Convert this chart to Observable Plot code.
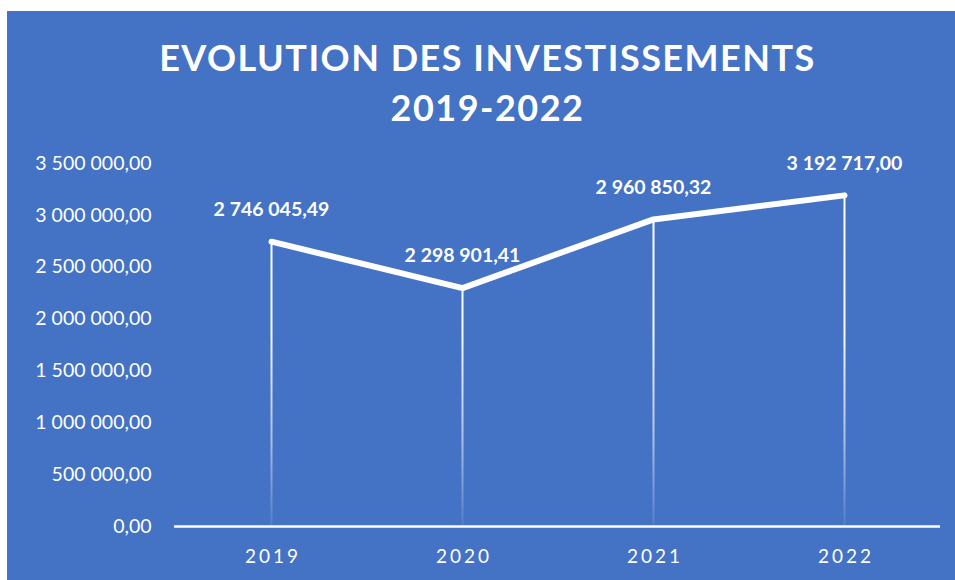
<!DOCTYPE html>
<html><head><meta charset="utf-8">
<script src="https://cdn.jsdelivr.net/npm/d3@7"></script>
<script src="https://cdn.jsdelivr.net/npm/@observablehq/plot@0.6"></script>
<style>
body{margin:0;width:955px;height:580px;position:relative;overflow:hidden;background:#fff;font-family:Lato,sans-serif}
#bg{position:absolute;left:7px;top:11px;width:948px;height:569px;background:#4472C4}
#title{position:absolute;left:0;top:32px;width:975px;text-align:center;color:#fff;font-weight:700;font-size:36px;line-height:50px;letter-spacing:1.5px}
#chart{position:absolute;left:0;top:140px}
#chart [aria-label="x-axis tick label"] text{letter-spacing:3px}
</style></head><body>
<div id="bg"></div>
<div id="title"></div>
<div id="chart"></div>
<script>
const titleLines = ["EVOLUTION DES INVESTISSEMENTS", "2019-2022"];
const years = ["2019", "2020", "2021", "2022"];
const values = [2746045.49, 2298901.41, 2960850.32, 3192717.00];
const yTicks = [0, 500000, 1000000, 1500000, 2000000, 2500000, 3000000, 3500000];

document.getElementById("title").innerHTML = titleLines.join("<br>");

const data = years.map((y, i) => ({year: y, value: values[i]}));
const fr = d3.formatLocale({decimal: ",", thousands: " ", grouping: [3], currency: ["", " €"]});
const fmt = fr.format(",.2f");

const defs = () => {
  const ns = "http://www.w3.org/2000/svg";
  const g = document.createElementNS(ns, "defs");
  const lg = document.createElementNS(ns, "linearGradient");
  lg.setAttribute("id", "fade");
  lg.setAttribute("gradientUnits", "userSpaceOnUse");
  lg.setAttribute("x1", 0); lg.setAttribute("x2", 0);
  lg.setAttribute("y1", 40); lg.setAttribute("y2", 386);
  [[0, 1], [0.45, 0.95], [0.75, 0.55], [1, 0.08]].forEach(([o, a]) => {
    const s = document.createElementNS(ns, "stop");
    s.setAttribute("offset", o);
    s.setAttribute("stop-color", "#ffffff");
    s.setAttribute("stop-opacity", a);
    lg.appendChild(s);
  });
  g.appendChild(lg);
  return g;
};

const plot = Plot.plot({
  width: 955,
  height: 440,
  marginTop: 23,
  marginBottom: 54,
  marginLeft: 174,
  marginRight: 15,
  style: {background: "transparent", color: "white", fontFamily: "Lato, sans-serif"},
  x: {type: "point", domain: years, padding: 0.5},
  y: {domain: [0, 3500000]},
  marks: [
    defs,
    Plot.axisY(yTicks, {tickSize: 0, tickPadding: 23, fontSize: 19.5, tickFormat: fmt, fill: "white", label: null}),
    Plot.axisX({tickSize: 0, tickPadding: 23, fontSize: 19, fill: "white", dx: 1.5, label: null}),
    Plot.ruleX(data, {x: "year", y1: 0, y2: "value", stroke: "url(#fade)", strokeWidth: 2}),
    Plot.ruleY([0], {stroke: "white", strokeWidth: 2.5}),
    Plot.line(data, {x: "year", y: "value", stroke: "white", strokeWidth: 6, strokeLinecap: "round", strokeLinejoin: "round"}),
    Plot.text(data, {x: "year", y: "value", text: d => fmt(d.value), dy: -32, fill: "white", fontSize: 19.5, fontWeight: "bold"})
  ]
});
document.getElementById("chart").appendChild(plot);
</script>
</body></html>
